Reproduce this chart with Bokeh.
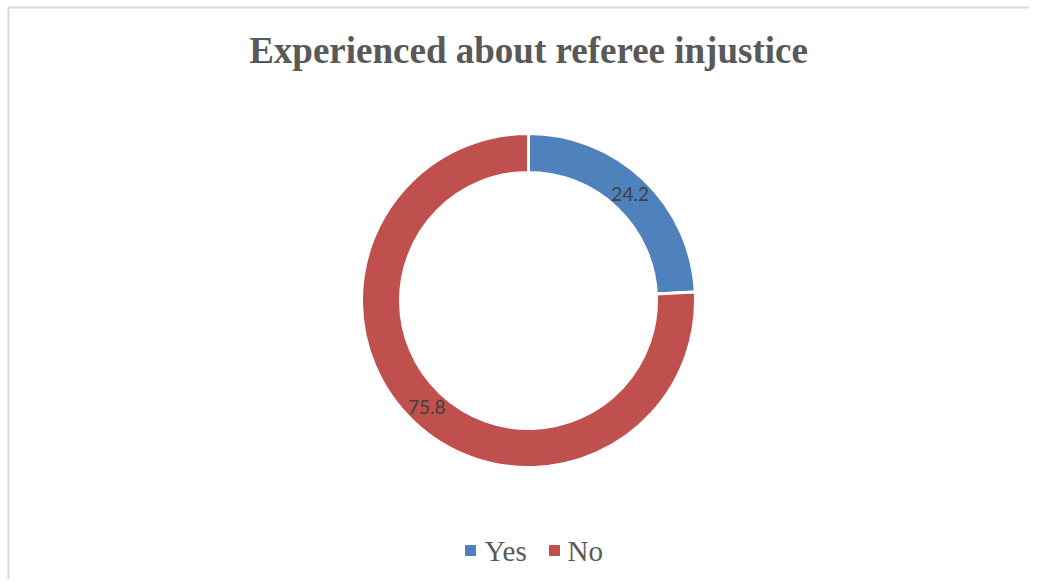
import math
from bokeh.plotting import figure
from bokeh.models import ColumnDataSource, Range1d
from bokeh.core.properties import value
from bokeh.embed import file_html
from bokeh.resources import INLINE

# Data
categories = ["Yes", "No"]
values = [24.2, 75.8]
colors = ["#4F81BD", "#C0504D"]
title_text = "Experienced about referee injustice"

W, H = 1029, 579
cx, cy = 528, 279
r_in, r_out = 128, 167

total = sum(values)
starts, ends, lx, ly = [], [], [], []
cum = 0.0
for v in values:
    a0 = math.pi / 2 - 2 * math.pi * cum / total
    cum += v
    a1 = math.pi / 2 - 2 * math.pi * cum / total
    starts.append(a0)
    ends.append(a1)
    mid = (a0 + a1) / 2
    rm = (r_in + r_out) / 2
    lx.append(cx + rm * math.cos(mid))
    ly.append(cy + rm * math.sin(mid))

src = ColumnDataSource(dict(cat=categories, val=values, color=colors,
                            start=starts, end=ends, lx=lx, ly=ly,
                            label=[f"{v:.1f}" for v in values]))

p = figure(width=W, height=H, x_range=Range1d(0, W), y_range=Range1d(0, H),
           output_backend="svg", toolbar_location=None, min_border=0)
p.axis.visible = False
p.grid.visible = False
p.outline_line_color = None
p.background_fill_color = "white"

# chart-area border (left and top edges visible)
p.line(x=[8, 8, W + 5], y=[-5, 572, 572], line_color="#d9d9d9", line_width=2)

p.annular_wedge(x=cx, y=cy, inner_radius=r_in, outer_radius=r_out,
                start_angle="start", end_angle="end", direction="clock",
                fill_color="color", line_color="white", line_width=3, source=src)

p.text(x="lx", y="ly", text="label", source=src, text_align="center",
       text_baseline="middle", text_font=value("Lato"), text_font_size="19px",
       text_color="#404040")

p.text(x=[cx], y=[529], text=[title_text], text_align="center", text_baseline="middle",
       text_font=value("Liberation Serif"), text_font_style="bold",
       text_font_size="37px", text_color="#595959")

# Legend
leg_sq_x = [470, 554]
leg_tx_x = [484, 567]
leg_y = 29
p.scatter(x=leg_sq_x, y=[leg_y] * 2, marker="square", size=10, color=colors)
p.text(x=leg_tx_x, y=[leg_y] * 2, text=categories, text_align="left", text_baseline="middle",
       text_font=value("Liberation Serif"), text_font_size="29px", text_color="#595959")

open("out.html", "w").write(file_html(p, INLINE))
